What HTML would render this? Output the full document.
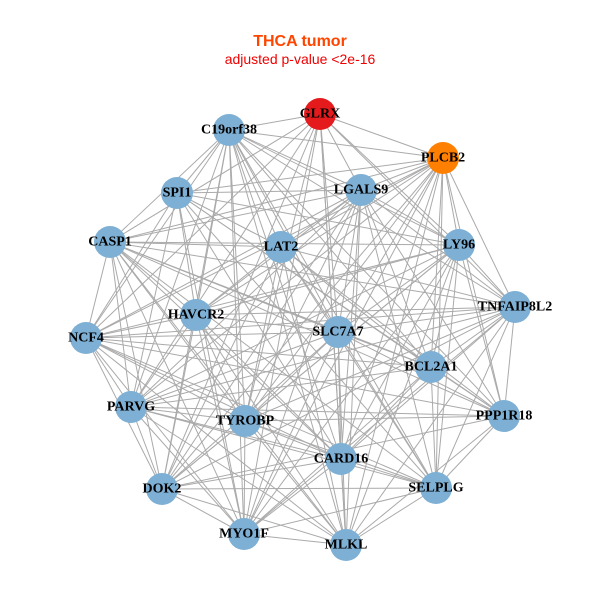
<!DOCTYPE html>
<html><head><meta charset="utf-8"><style>
html,body{margin:0;padding:0;background:#fff;}
svg{display:block;}
.t{font-family:"Liberation Serif",serif;font-weight:bold;font-size:14px;fill:#000;text-anchor:middle;dominant-baseline:central;}
</style></head><body>
<svg id="s" width="600" height="600" viewBox="0 0 600 600">
<rect width="600" height="600" fill="#fff"/>
<text x="300" y="46" font-family="Liberation Sans,sans-serif" font-weight="bold" font-size="16" fill="#FF4500" text-anchor="middle">THCA tumor</text>
<text x="300" y="64" font-family="Liberation Sans,sans-serif" font-size="14" fill="#F00000" text-anchor="middle">adjusted p-value &lt;2e-16</text>
<g id="e" stroke="#aaaaaa" stroke-width="1"></g>
<g id="n"></g>
<g>
<text class="t" x="320" y="114">GLRX</text>
<text class="t" x="229" y="130">C19orf38</text>
<text class="t" x="443" y="158">PLCB2</text>
<text class="t" x="177" y="193">SPI1</text>
<text class="t" x="361" y="190">LGALS9</text>
<text class="t" x="110" y="242">CASP1</text>
<text class="t" x="281" y="247">LAT2</text>
<text class="t" x="459" y="245">LY96</text>
<text class="t" x="515" y="307">TNFAIP8L2</text>
<text class="t" x="196" y="315">HAVCR2</text>
<text class="t" x="86" y="338">NCF4</text>
<text class="t" x="338" y="332">SLC7A7</text>
<text class="t" x="431" y="367">BCL2A1</text>
<text class="t" x="131" y="407">PARVG</text>
<text class="t" x="245" y="421">TYROBP</text>
<text class="t" x="504" y="416">PPP1R18</text>
<text class="t" x="341" y="459">CARD16</text>
<text class="t" x="162" y="489">DOK2</text>
<text class="t" x="436" y="488">SELPLG</text>
<text class="t" x="244" y="534">MYO1F</text>
<text class="t" x="346" y="545">MLKL</text>
</g>
</svg>
<script>
var P=[[320,114,"#E41A1C"],[229,130],[443,158,"#FF7F00"],[177,193],[361,190],[110,242],[281,247],[459,245],[515,307],[196,315],[86,338],[338,332],[431,367],[131,407],[245,421],[504,416],[341,459],[162,489],[436,488],[244,534],[346,545]];
var ns="http://www.w3.org/2000/svg",e=document.getElementById("e"),n=document.getElementById("n");
for(var i=0;i<P.length;i++)for(var j=i+1;j<P.length;j++){
 if((i*7+j*3)%9==0)continue;
 var l=document.createElementNS(ns,"line");
 l.setAttribute("x1",P[i][0]);l.setAttribute("y1",P[i][1]);l.setAttribute("x2",P[j][0]);l.setAttribute("y2",P[j][1]);e.appendChild(l);}
for(var i=0;i<P.length;i++){var c=document.createElementNS(ns,"circle");
 c.setAttribute("cx",P[i][0]);c.setAttribute("cy",P[i][1]);c.setAttribute("r",16);c.setAttribute("fill",P[i][2]||"#7EB0D5");n.appendChild(c);}
</script>
</body></html>
